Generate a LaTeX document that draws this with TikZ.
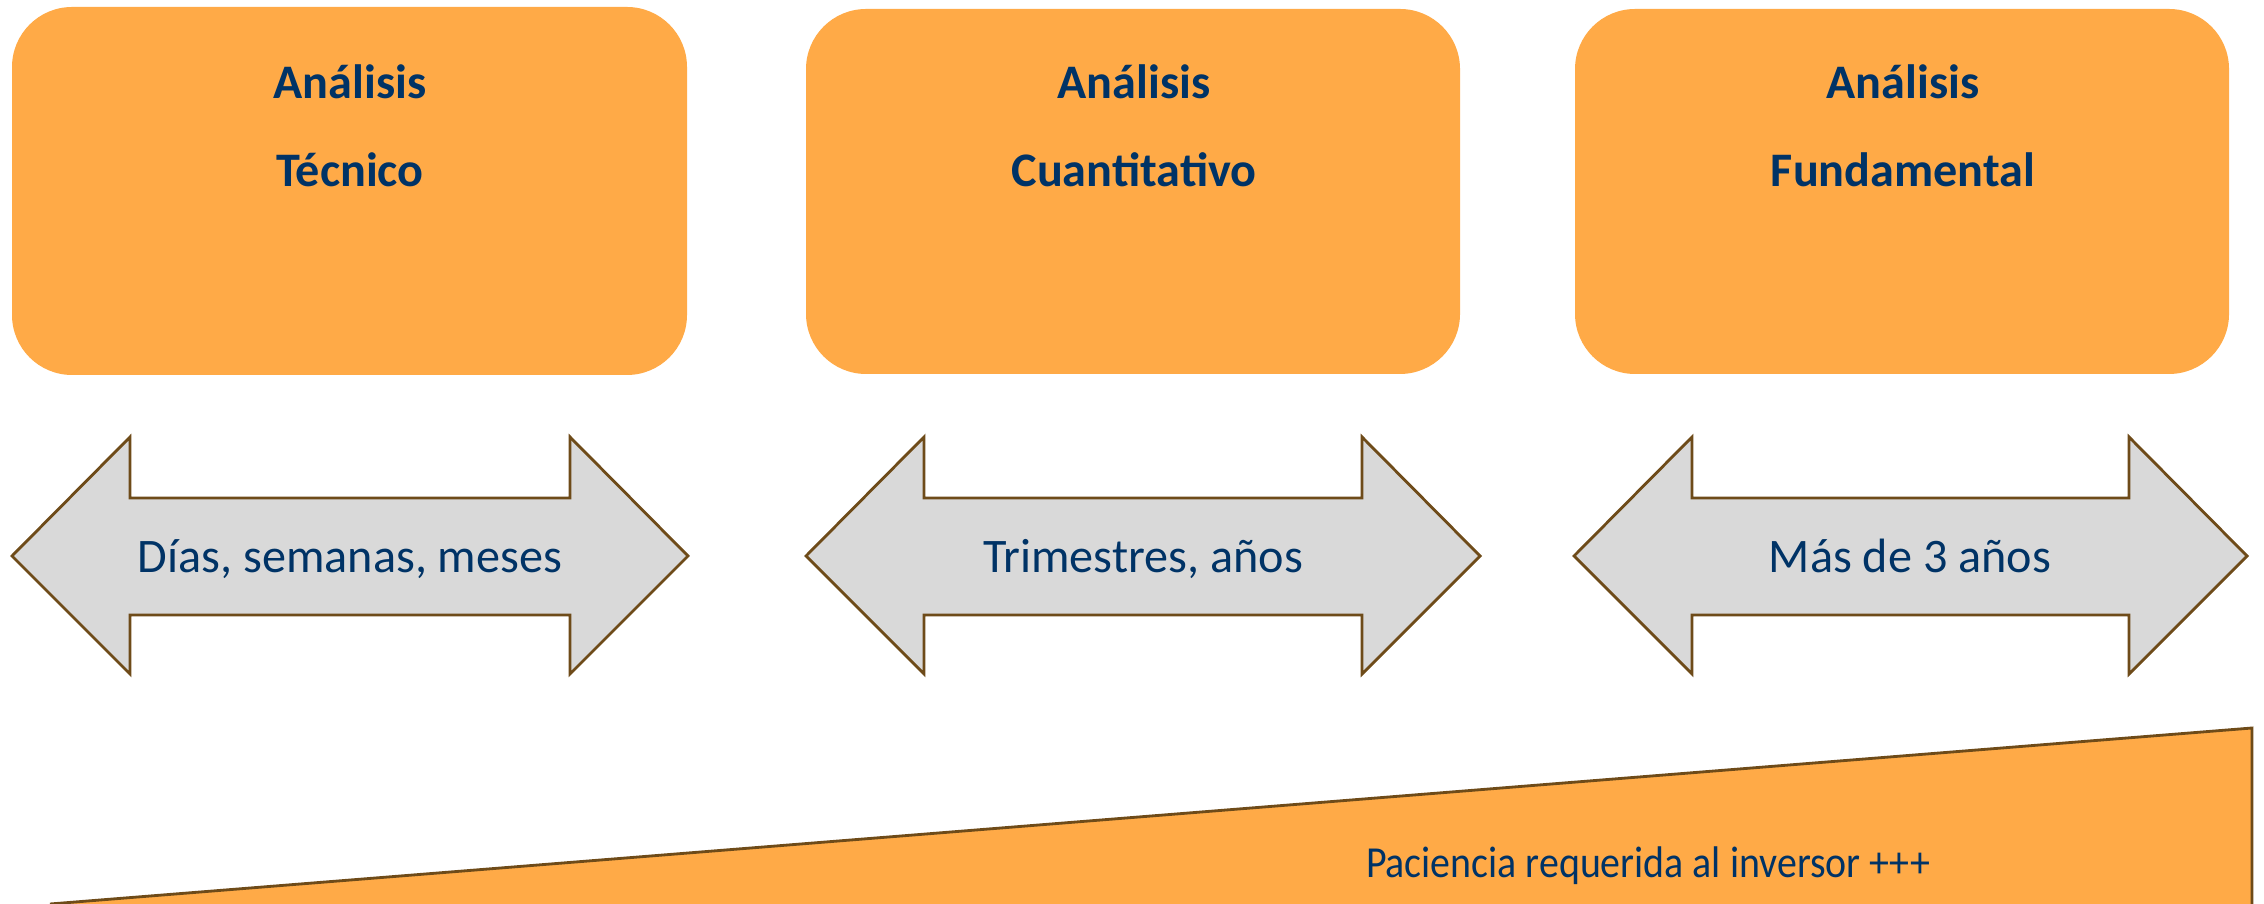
\documentclass[tikz,border=0pt]{standalone}
\usepackage{fontspec}
\setmainfont{Carlito}
\usetikzlibrary{positioning}
\definecolor{boxorange}{RGB}{255,170,71}
\definecolor{textnavy}{RGB}{0,51,102}
\definecolor{edgebrown}{RGB}{110,75,25}
\definecolor{arrowgray}{RGB}{217,217,217}
\begin{document}
\begin{tikzpicture}[x=0.01cm,y=-0.01cm,
  methodbox/.style={fill=boxorange,rounded corners=0.6cm},
  boxtitle/.style={text=textnavy,anchor=base,font=\fontsize{13.7}{16}\selectfont\bfseries},
  spanarrow/.style={fill=arrowgray,draw=edgebrown,line width=0.8pt,line join=miter},
  spantext/.style={text=textnavy,anchor=base,font=\fontsize{13.7}{16}\selectfont}]
\useasboundingbox (0,0) rectangle (2264,904);
% method boxes
\fill[methodbox] (12,7) rectangle (687,375);
\fill[methodbox] (806,9) rectangle (1460,374);
\fill[methodbox] (1575,9) rectangle (2229,374);
\node[boxtitle] (tecA) at (350,99) {Análisis};
\node[boxtitle] (tecB) at (350,187) {Técnico};
\node[boxtitle] (cuaA) at (1134,99) {Análisis};
\node[boxtitle] (cuaB) at (1134,187) {Cuantitativo};
\node[boxtitle] (funA) at (1903,99) {Análisis};
\node[boxtitle] (funB) at (1903,187) {Fundamental};
% time span arrows
\foreach \l/\r in {12/688, 806/1480, 1574/2247}
  \draw[spanarrow] (\l,556) -- (\l+118,437) -- (\l+118,498) -- (\r-118,498)
    -- (\r-118,437) -- (\r,556) -- (\r-118,674) -- (\r-118,615)
    -- (\l+118,615) -- (\l+118,674) -- cycle;
\node[spantext] (spanA) at (350,573) {Días, semanas, meses};
\node[spantext] (spanB) at (1143,573) {Trimestres, años};
\node[spantext] (spanC) at (1910,573) {Más de 3 años};
% patience wedge
\fill[boxorange] (50,904) -- (2252,728) -- (2252,904) -- cycle;
\draw[edgebrown,line width=0.8pt] (50,904) -- (2252,728) -- (2252,904);
\node[spantext,font=\fontsize{12.6}{15}\selectfont] (patience) at (1648,877)
  {\scalebox{0.9}[1]{Paciencia requerida al inversor +++}};
\end{tikzpicture}
\end{document}
